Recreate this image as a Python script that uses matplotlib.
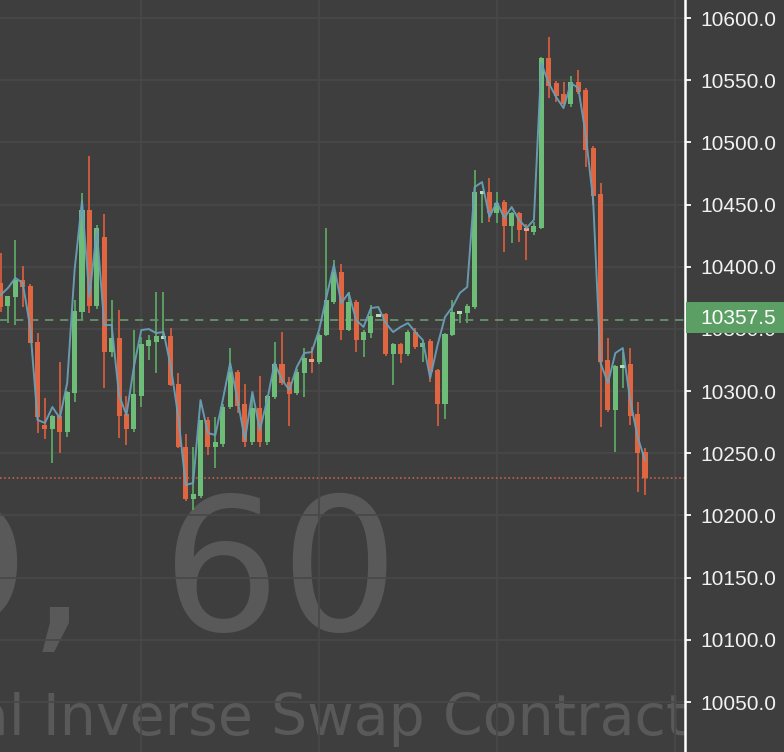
import matplotlib
matplotlib.use("Agg")
import matplotlib.pyplot as plt
from matplotlib.patches import Rectangle
import numpy as np

# ---- data ----
opens = [10387.0, 10368.5, 10375.5, 10389.5, 10384.5, 10339.5, 10272.5, 10269.5, 10280.0, 10267.0,
         10298.5, 10363.5, 10445.5, 10368.5, 10424.0, 10331.5, 10342.5, 10281.5, 10269.5, 10296.0,
         10336.5, 10339.5, 10343.5, 10344.5, 10305.5, 10255.0, 10213.0, 10215.5, 10276.5, 10255.0,
         10257.5, 10287.0, 10315.5, 10289.5, 10259.0, 10286.5, 10259.0, 10295.0, 10322.0, 10307.5,
         10298.5, 10314.5, 10326.0, 10323.5, 10345.0, 10371.5, 10396.0, 10349.0, 10371.5, 10341.0,
         10346.5, 10360.5, 10362.0, 10330.0, 10338.0, 10330.0, 10347.5, 10335.5, 10340.5, 10317.0,
         10289.5, 10345.0, 10363.0, 10363.0, 10367.5, 10460.0, 10460.0, 10443.0, 10452.0, 10432.5,
         10443.0, 10430.5, 10428.0, 10431.0, 10568.0, 10547.5, 10539.0, 10531.0, 10548.5, 10542.0,
         10495.5, 10458.5, 10325.0, 10285.0, 10320.0, 10322.0, 10281.5, 10251.0]
highs = [10411.0, 10376.5, 10421.5, 10400.5, 10386.0, 10346.5, 10294.5, 10281.0, 10323.5, 10300.0,
         10373.0, 10459.5, 10489.0, 10433.5, 10442.5, 10373.0, 10365.0, 10296.0, 10349.0, 10343.5,
         10345.0, 10379.5, 10379.5, 10350.5, 10314.5, 10265.5, 10255.0, 10277.0, 10279.0, 10279.0,
         10289.5, 10334.5, 10317.0, 10305.5, 10297.0, 10312.0, 10297.0, 10339.5, 10347.5, 10311.5,
         10318.0, 10334.5, 10335.5, 10347.0, 10431.0, 10405.5, 10402.0, 10379.5, 10373.0, 10349.0,
         10369.0, 10361.5, 10363.0, 10339.0, 10339.0, 10349.0, 10350.5, 10339.5, 10342.0, 10318.0,
         10347.0, 10373.0, 10364.0, 10370.0, 10478.0, 10461.0, 10471.5, 10460.0, 10453.5, 10444.0,
         10444.0, 10434.5, 10436.0, 10568.5, 10584.5, 10549.0, 10548.5, 10553.5, 10558.0, 10544.0,
         10497.0, 10467.5, 10342.5, 10321.0, 10331.5, 10334.5, 10291.0, 10254.0]
lows = [10363.5, 10354.5, 10353.0, 10367.5, 10338.5, 10266.5, 10261.5, 10242.0, 10250.0, 10263.0,
        10291.0, 10357.0, 10363.0, 10366.0, 10302.5, 10327.5, 10262.5, 10256.5, 10267.0, 10287.0,
        10325.0, 10314.5, 10343.0, 10304.0, 10254.0, 10212.0, 10204.5, 10214.0, 10248.5, 10238.0,
        10255.0, 10286.0, 10282.5, 10255.0, 10257.0, 10255.0, 10256.5, 10294.0, 10305.0, 10272.0,
        10297.0, 10295.0, 10314.5, 10322.0, 10344.0, 10370.0, 10341.0, 10348.0, 10331.5, 10327.5,
        10342.5, 10359.5, 10328.0, 10305.0, 10322.5, 10328.0, 10334.0, 10323.5, 10307.5, 10272.0,
        10277.5, 10344.0, 10354.5, 10354.5, 10366.0, 10435.0, 10436.0, 10435.0, 10412.0, 10419.0,
        10420.0, 10405.5, 10425.5, 10430.0, 10535.5, 10532.5, 10529.5, 10528.5, 10539.0, 10480.0,
        10449.5, 10271.0, 10283.0, 10251.0, 10302.5, 10272.5, 10219.0, 10216.5]
closes = [10367.5, 10376.5, 10389.5, 10383.5, 10338.5, 10279.0, 10269.5, 10280.0, 10267.0, 10299.5,
          10364.5, 10445.5, 10368.5, 10431.0, 10331.5, 10342.5, 10280.0, 10269.5, 10297.5, 10338.0,
          10341.0, 10344.5, 10343.5, 10305.0, 10255.0, 10213.0, 10217.0, 10276.5, 10255.0, 10259.0,
          10287.0, 10315.5, 10288.0, 10259.0, 10286.5, 10259.0, 10296.0, 10322.0, 10306.5, 10297.5,
          10315.5, 10326.5, 10323.5, 10345.0, 10373.0, 10396.0, 10349.0, 10371.5, 10341.0, 10347.5,
          10360.5, 10360.5, 10330.0, 10338.0, 10330.0, 10347.5, 10335.5, 10338.5, 10315.5, 10289.5,
          10346.0, 10363.5, 10363.0, 10368.5, 10460.0, 10460.0, 10443.0, 10451.0, 10432.5, 10443.0,
          10429.5, 10429.5, 10432.5, 10568.0, 10545.5, 10537.5, 10531.0, 10548.5, 10540.5, 10494.0,
          10457.0, 10323.5, 10285.0, 10320.0, 10320.0, 10280.0, 10250.0, 10230.0]
index_line = [10377.3, 10382.9, 10391.0, 10386.9, 10351.6, 10276.8, 10274.4, 10287.2, 10278.4, 10306.5,
              10397.4, 10452.9, 10375.7, 10429.5, 10353.1, 10353.1, 10296.8, 10280.8, 10319.4, 10349.1,
              10349.9, 10346.7, 10347.5, 10319.4, 10279.2, 10224.5, 10226.1, 10292.8, 10266.3, 10264.7,
              10292.8, 10322.6, 10292.8, 10260.7, 10299.3, 10268.7, 10292.8, 10322.6, 10308.9, 10300.9,
              10319.4, 10330.6, 10331.4, 10349.1, 10375.7, 10401.4, 10370.8, 10378.9, 10357.2, 10351.6,
              10366.8, 10367.6, 10354.7, 10347.5, 10351.6, 10354.7, 10347.5, 10341.1, 10310.5, 10337.1,
              10359.6, 10367.6, 10378.9, 10383.7, 10464.1, 10468.1, 10440.0, 10452.1, 10439.2, 10448.0,
              10437.6, 10431.2, 10437.6, 10563.8, 10547.7, 10536.5, 10527.6, 10547.7, 10543.7, 10505.9,
              10453.6, 10322.6, 10306.5, 10330.6, 10334.6, 10292.8, 10263.1, 10244.6]
price_ticks = [10050.0, 10100.0, 10150.0, 10200.0, 10250.0, 10300.0, 10350.0, 10400.0,
               10450.0, 10500.0, 10550.0, 10600.0]
marked_price = 10357.5
last_price = 10230.0
day_lines = [19, 43, 67, 91]
watermark_symbol = "BTCUSD,"
watermark_interval = "60"
watermark_sub = "al Inverse Swap Contract"

# ---- style ----
BG = "#3d3e3d"
GRID = "#474847"
UP = "#6dbd78"
DOWN = "#df6640"
UP_WICK = "#5a9f62"
DOWN_WICK = "#c85a3e"
UP_PALE = "#b4dcb8"
DOWN_PALE = "#eba08a"
BLUE = "#6a9fb8"
WM = "#585958"

W, H = 784, 752
fig = plt.figure(figsize=(W / 100, H / 100), dpi=100, facecolor=BG)
ax = fig.add_axes([0, 0, 685 / W, 1])
ax.set_facecolor(BG)

x = np.arange(len(opens))
ax.set_xlim(-0.07, 92.4)
ax.set_ylim(10009.8, 10614.5)

# grid
for t in price_ticks:
    ax.axhline(t, color=GRID, lw=1.2, zorder=0.5)
for d in day_lines:
    ax.axvline(d, color=GRID, lw=1.2, zorder=0.5)

# watermark
wm_kw = dict(transform=ax.transAxes, va="baseline", color=WM, family="DejaVu Sans",
             zorder=0.3, clip_on=True)
ax.text(88 / 685, (H - 630) / H, watermark_symbol, ha="right", fontsize=134, **wm_kw)
ax.text(399 / 685, (H - 630) / H, watermark_interval, ha="right", fontsize=134, **wm_kw)
ax.text(-26 / 685, (H - 735) / H, watermark_sub, ha="left", fontsize=41, **wm_kw)

# candles
o = np.array(opens); c = np.array(closes); hi = np.array(highs); lo = np.array(lows)
for i in range(len(o)):
    diff = c[i] - o[i]
    if abs(diff) < 3.0:
        col = DOWN_PALE if diff < 0 else UP_PALE
        wcol = DOWN_WICK if diff < 0 else UP_WICK
    elif diff > 0:
        col, wcol = UP, UP_WICK
    else:
        col, wcol = DOWN, DOWN_WICK
    ax.vlines(x[i], lo[i], hi[i], color=wcol, lw=1.4, zorder=2)
    bot = min(o[i], c[i]); h = max(abs(diff), 2.4)
    if abs(diff) < 2.4:
        bot = (o[i] + c[i]) / 2 - 1.2
    ax.bar(x[i], h, bottom=bot, width=0.68, color=col, linewidth=0, zorder=3)

ax.plot(x, index_line, color=BLUE, lw=1.4, zorder=4, alpha=0.95)

# price lines
ax.axhline(marked_price, color="#6a9a70", lw=1.2, ls=(0, (5, 4)), zorder=1.5)
ax.axhline(last_price, color="#c0604a", lw=1.2, ls=(0, (1, 1.5)), zorder=1.5)

# axis
ax.yaxis.tick_right()
ax.set_yticks(price_ticks)
ax.set_yticklabels([f"{t:.1f}" for t in price_ticks])
ax.tick_params(axis="y", colors="white", length=4.5, width=1.3, pad=6.5, labelsize=15)
for lab in ax.get_yticklabels():
    lab.set_family(["Liberation Sans", "DejaVu Sans"])
    lab.set_color("#f2f2f2")
ax.set_xticks([])
for s in ["left", "top", "bottom"]:
    ax.spines[s].set_visible(False)
ax.spines["right"].set_color("white")
ax.spines["right"].set_linewidth(1.8)

# current price tag
fig.patches.append(Rectangle((686 / W, (H - 333) / H), (W - 686) / W, 31 / H,
                             transform=fig.transFigure, facecolor="#5c9f64", edgecolor="none", zorder=5))
fig.text(700 / W, (H - 318) / H, f"{marked_price:.1f}", ha="left", va="center", fontsize=15,
         color="white", family=["Liberation Sans", "DejaVu Sans"], zorder=6)

fig.savefig("out.png", dpi=100, facecolor=BG)
